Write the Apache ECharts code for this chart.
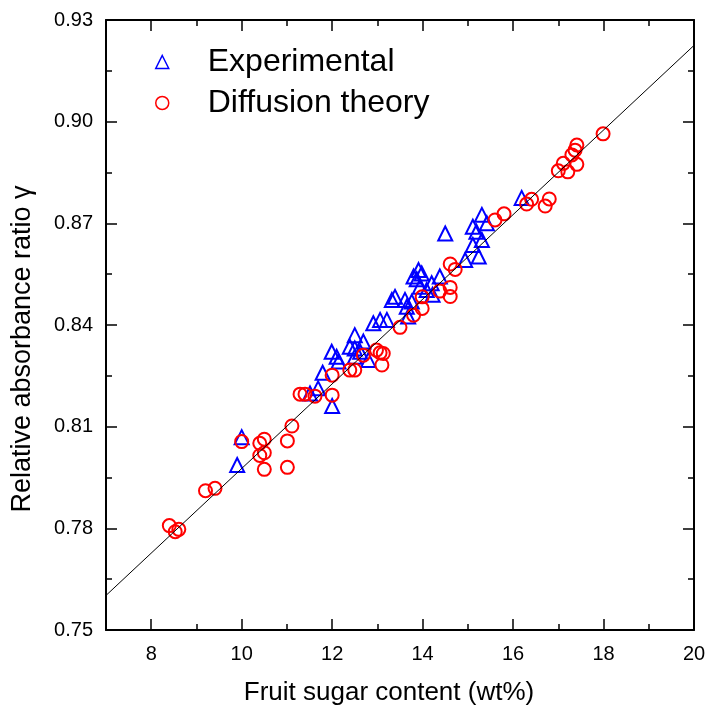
<!DOCTYPE html>
<html>
<head>
<meta charset="utf-8">
<script src="https://cdn.jsdelivr.net/npm/echarts@6/dist/echarts.min.js"></script>
<style>
  html, body { margin: 0; padding: 0; background: #fff; }
  #chart { width: 706px; height: 706px; }
</style>
</head>
<body>
<div id="chart"></div>
<script>
// Measured fruit sugar content (wt%) vs. relative absorbance ratio
const expX = [9.90, 10.00, 11.51, 11.69, 11.79, 12.00, 11.99, 12.10, 12.14, 12.39,
              12.50, 12.50, 12.50, 12.62, 12.69, 12.80, 12.91, 13.06, 13.21, 13.32,
              13.39, 13.61, 13.65, 13.68, 13.76, 13.80, 13.87, 13.91, 13.98, 13.94,
              14.09, 14.20, 14.22, 14.38, 14.50, 14.94, 15.11, 15.19, 15.31, 15.42,
              15.31, 15.11, 15.24, 16.19];
const expY = [0.7987, 0.8069, 0.8198, 0.8213, 0.8259, 0.8161, 0.8321, 0.8306, 0.8292, 0.8336,
              0.8370, 0.8331, 0.8306, 0.8321, 0.8351, 0.8297, 0.8405, 0.8415, 0.8415, 0.8474,
              0.8483, 0.8474, 0.8454, 0.8425, 0.8469, 0.8543, 0.8535, 0.8562, 0.8552, 0.8513,
              0.8503, 0.8523, 0.8489, 0.8543, 0.8670, 0.8592, 0.8690, 0.8675, 0.8725, 0.8700,
              0.8651, 0.8636, 0.8602, 0.8775];

// Values predicted by diffusion theory
const theoX = [8.40, 8.53, 8.61, 9.20, 9.41, 10.00, 10.40, 10.50, 10.40, 10.50,
               10.50, 11.01, 11.01, 11.11, 11.29, 11.40, 11.62, 12.00, 12.00, 12.39,
               12.50, 12.69, 12.98, 13.06, 13.13, 13.10, 13.50, 13.80, 13.99, 13.99,
               14.38, 14.61, 14.72, 14.61, 14.61, 15.60, 15.80, 16.30, 16.41, 16.71,
               16.80, 17.00, 17.11, 17.21, 17.30, 17.37, 17.41, 17.41, 17.99];
const theoY = [0.7808, 0.7790, 0.7797, 0.7911, 0.7918, 0.8056, 0.8051, 0.8063, 0.8015, 0.8023,
               0.7974, 0.8058, 0.7980, 0.8102, 0.8196, 0.8196, 0.8190, 0.8252, 0.8193, 0.8267,
               0.8267, 0.8311, 0.8326, 0.8318, 0.8316, 0.8282, 0.8393, 0.8429, 0.8449, 0.8483,
               0.8500, 0.8580, 0.8564, 0.8511, 0.8484, 0.8710, 0.8728, 0.8757, 0.8771, 0.8751,
               0.8772, 0.8855, 0.8877, 0.8852, 0.8902, 0.8916, 0.8931, 0.8874, 0.8964];

// Linear fit end points
const fitX = [7, 20];
const fitY = [0.7602, 0.9225];

// Axis ticks
const xMajor = [8, 10, 12, 14, 16, 18, 20];
const xMinor = [9, 11, 13, 15, 17, 19];
const xMin = 7, xMax = 20;
const yMin = 0.75, yMax = 0.93, yStep = 0.03;

const FONT = 'Liberation Sans, Arial, sans-serif';
const BLUE = '#0000ff';
const RED = '#ff0000';

const zip = (xs, ys) => xs.map((x, i) => [x, ys[i]]);

function xAxisLayer(pos, ticks, len, withLine, withLabels) {
  const ax = {
    type: 'value', position: pos, min: xMin, max: xMax,
    splitLine: { show: false },
    axisLine: { show: withLine, onZero: false, lineStyle: { color: '#000', width: 2 } },
    axisTick: { show: true, inside: true, length: len, customValues: ticks,
                lineStyle: { color: '#000', width: 1.5 } },
    axisLabel: { show: withLabels, customValues: ticks, margin: 14,
                 fontFamily: FONT, fontSize: 20, color: '#000' }
  };
  if (withLabels) {
    ax.name = 'Fruit sugar content (wt%)';
    ax.nameLocation = 'middle';
    ax.nameGap = 50;
    ax.nameTextStyle = { fontFamily: FONT, fontSize: 26, color: '#000', padding: [0, 22, 0, 0] };
  }
  return ax;
}

function yAxisLayer(pos, withLabels) {
  const ax = {
    type: 'value', position: pos, min: yMin, max: yMax, interval: yStep,
    splitLine: { show: false },
    axisLine: { show: true, onZero: false, lineStyle: { color: '#000', width: 2 } },
    axisTick: { show: true, inside: true, length: 11, lineStyle: { color: '#000', width: 1.5 } },
    minorTick: { show: true, splitNumber: 2, length: 6, lineStyle: { color: '#000', width: 1.5 } },
    axisLabel: { show: withLabels, margin: 13, fontFamily: FONT, fontSize: 20, color: '#000',
                 formatter: v => v.toFixed(2) }
  };
  if (withLabels) {
    ax.name = 'Relative absorbance ratio \u03b3';
    ax.nameLocation = 'middle';
    ax.nameGap = 70;
    ax.nameTextStyle = { fontFamily: FONT, fontSize: 27, color: '#000', padding: [0, 48, 0, 0] };
  }
  return ax;
}

const chart = echarts.init(document.getElementById('chart'), null, { renderer: 'canvas' });

chart.setOption({
  backgroundColor: '#fff',
  animation: false,
  grid: { left: 106, right: 12, top: 20, bottom: 76, containLabel: false, outerBoundsMode: 'none' },
  legend: {
    orient: 'vertical', left: 155, top: 46, itemGap: 9,
    itemWidth: 13, itemHeight: 13, padding: 0,
    textStyle: { fontFamily: FONT, fontSize: 32, color: '#000', padding: [0, 0, 0, 34] },
    data: [
      { name: 'Experimental', icon: 'triangle',
        itemStyle: { color: 'rgba(0,0,0,0)', borderColor: BLUE, borderWidth: 1.5 } },
      { name: 'Diffusion theory', icon: 'circle',
        itemStyle: { color: 'rgba(0,0,0,0)', borderColor: RED, borderWidth: 1.5 } }
    ]
  },
  xAxis: [
    xAxisLayer('bottom', xMajor, 11, true, true),
    xAxisLayer('bottom', xMinor, 6, false, false),
    xAxisLayer('top', xMajor, 11, true, false),
    xAxisLayer('top', xMinor, 6, false, false)
  ],
  yAxis: [
    yAxisLayer('left', true),
    yAxisLayer('right', false)
  ],
  series: [
    {
      name: 'Fit', type: 'line', data: zip(fitX, fitY),
      xAxisIndex: 0, yAxisIndex: 0, showSymbol: false, symbol: 'none', silent: true,
      lineStyle: { color: '#000', width: 1 }, z: 3
    },
    {
      name: 'Experimental', type: 'scatter', data: zip(expX, expY),
      xAxisIndex: 0, yAxisIndex: 0, symbol: 'triangle', symbolSize: 14,
      itemStyle: { color: 'rgba(0,0,0,0)', borderColor: BLUE, borderWidth: 2, opacity: 1 },
      z: 2
    },
    {
      name: 'Diffusion theory', type: 'scatter', data: zip(theoX, theoY),
      xAxisIndex: 0, yAxisIndex: 0, symbol: 'circle', symbolSize: 13,
      itemStyle: { color: 'rgba(0,0,0,0)', borderColor: RED, borderWidth: 2, opacity: 1 },
      z: 2
    }
  ]
});
</script>
</body>
</html>
